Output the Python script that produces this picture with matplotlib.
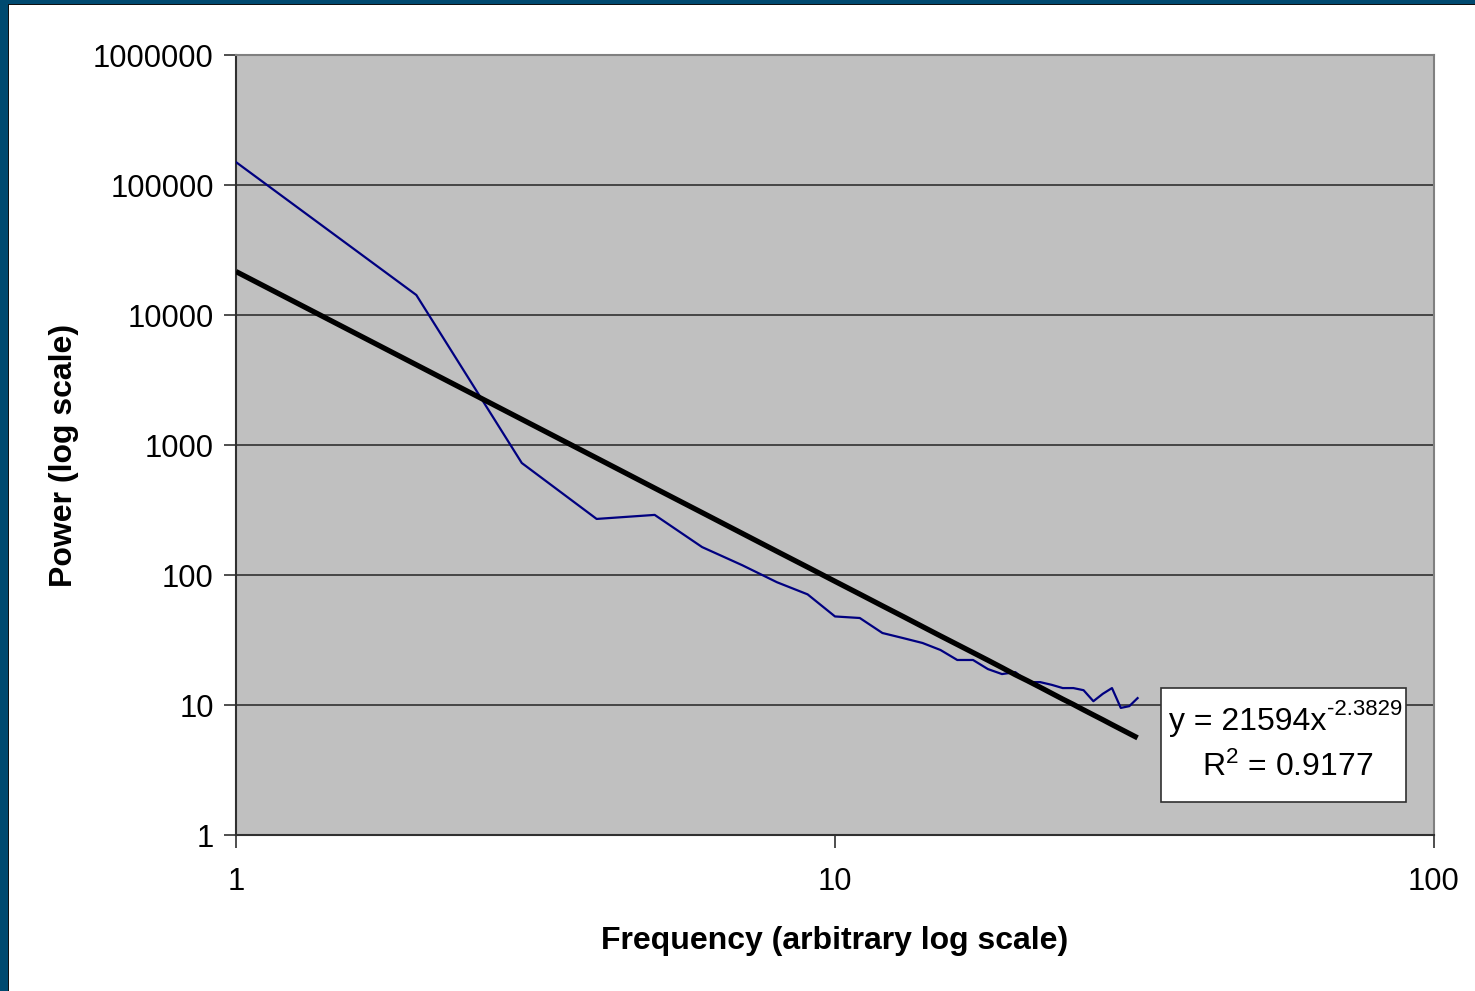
import numpy as np
import matplotlib
matplotlib.use('Agg')
import matplotlib.pyplot as plt
from matplotlib.patches import Rectangle

plt.rcParams['font.family'] = ['Liberation Sans', 'DejaVu Sans']
plt.rcParams['mathtext.fontset'] = 'custom'
plt.rcParams['mathtext.rm'] = 'Liberation Sans'
plt.rcParams['mathtext.default'] = 'regular'

freq = list(range(1, 33))
power = [150000, 14250, 727, 270, 290, 164, 119, 88, 71, 48,
         46.7, 35.8, 32.7, 30, 26.5, 22.2, 22.2, 18.9, 17.3, 17.9,
         15.0, 15.0, 14.3, 13.5, 13.5, 13.0, 10.7, 12.2, 13.5, 9.5,
         9.8, 11.3]

# power-law trendline values (y = 21594 x^-2.3829) at the same frequencies
trend = [21594, 4140, 1576, 794, 466, 302, 209, 152, 115, 89.4,
         71.3, 57.9, 47.9, 40.1, 34.0, 29.2, 25.3, 22.1, 19.4, 17.1,
         15.3, 13.7, 12.3, 11.1, 10.1, 9.18, 8.39, 7.70, 7.07, 6.52,
         6.03, 5.59]

eq_base = 'y = 21594x'
eq_exp = '-2.3829'
r2_text = r'R$^{2}$ = 0.9177'

yticks = [1, 10, 100, 1000, 10000, 100000, 1000000]
xticks = [1, 10, 100]

fig = plt.figure(figsize=(14.75, 9.91), dpi=100)
fig.patch.set_facecolor('white')

# dark blue frame on the left and top edges
fig.patches.append(Rectangle((0, 0), 8/1475, 1, transform=fig.transFigure,
                             facecolor='#004A70', edgecolor='none', zorder=-1))
fig.patches.append(Rectangle((0, 1-4/991), 1, 4/991, transform=fig.transFigure,
                             facecolor='#004A70', edgecolor='none', zorder=-1))
fig.patches.append(Rectangle((8/1475, 0), 1.2/1475, 1-4/991, transform=fig.transFigure,
                             facecolor='#101010', edgecolor='none', zorder=-1))
fig.patches.append(Rectangle((8/1475, 1-5.2/991), 1, 1.2/991, transform=fig.transFigure,
                             facecolor='#101010', edgecolor='none', zorder=-1))

ax = fig.add_axes([0.16, 0.1574, 0.8122, 0.7871])
ax.set_facecolor('#C0C0C0')
ax.set_xscale('log')
ax.set_yscale('log')
ax.set_xlim(1, 100)
ax.set_ylim(1, 1000000)

ax.plot(freq, power, color='#000080', lw=1.6, zorder=3)
ax.plot(freq, trend, color='black', lw=3.8, zorder=4, solid_capstyle='butt')

ax.set_yticks(yticks)
ax.set_yticklabels([str(v) for v in yticks])
ax.set_xticks(xticks)
ax.set_xticklabels([str(v) for v in xticks])
ax.minorticks_off()
ax.tick_params(axis='both', direction='out', length=9, width=1.2, color='#303030',
               labelsize=22.3, labelcolor='black')
ax.tick_params(axis='y', pad=7)
ax.tick_params(axis='x', pad=14)

ax.yaxis.grid(True, color='#303030', lw=1.2)
ax.xaxis.grid(False)
ax.set_axisbelow(True)

for s in ['left', 'bottom']:
    ax.spines[s].set_color('#303030')
    ax.spines[s].set_linewidth(1.5)
for s in ['top', 'right']:
    ax.spines[s].set_color('#808080')
    ax.spines[s].set_linewidth(1.5)

ax.set_xlabel('Frequency (arbitrary log scale)', fontsize=23, fontweight='bold')
ax.xaxis.set_label_coords(0.4996, -0.117)
ax.set_ylabel('Power (log scale)', fontsize=23, fontweight='bold')
ax.yaxis.set_label_coords(-0.131, 0.487)

# equation box
ax.add_patch(Rectangle((0.772, 0.042), 0.205, 0.146, transform=ax.transAxes,
                       facecolor='white', edgecolor='#303030', lw=1.2, zorder=5))
ax.text(0.9100, 0.1449, eq_base, transform=ax.transAxes, ha='right', va='center',
        fontsize=23, zorder=6)
ax.text(0.9110, 0.1615, eq_exp, transform=ax.transAxes, ha='left', va='center',
        fontsize=16, zorder=6)
ax.text(0.8780, 0.087, r2_text, transform=ax.transAxes, ha='center', va='center',
        fontsize=23, zorder=6)

fig.savefig('out.png', dpi=100)
